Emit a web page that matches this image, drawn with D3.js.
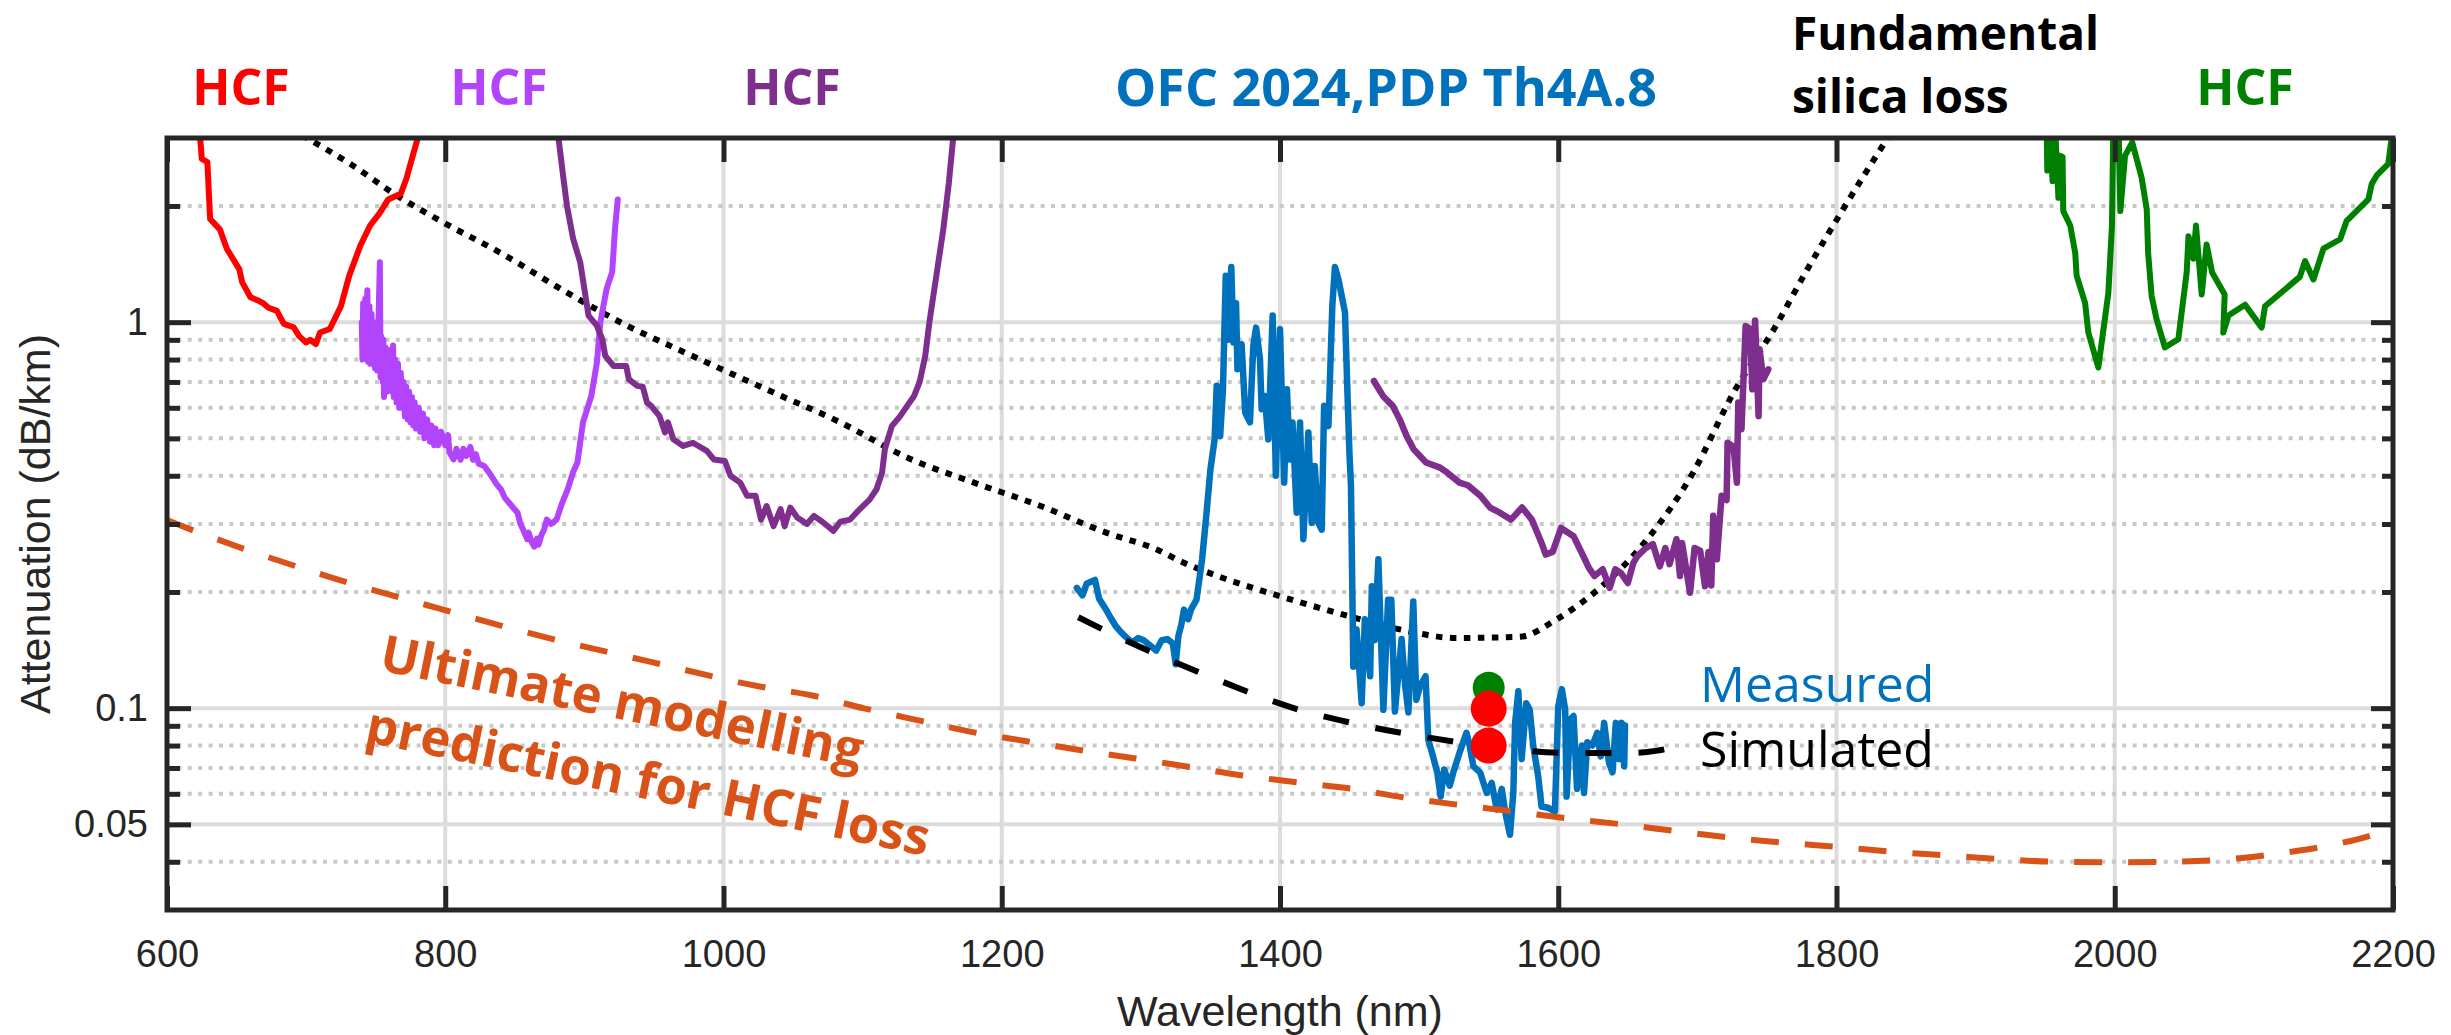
<!DOCTYPE html>
<html>
<head>
<meta charset="utf-8">
<script src="https://cdn.jsdelivr.net/npm/d3@7"></script>
<style>
  html, body { margin: 0; padding: 0; background: #fff; }
  #chart { width: 2451px; height: 1035px; }
</style>
</head>
<body>
<div id="chart"></div>
<script>
// ========== DATA (wavelength nm, attenuation dB/km) ==========

const xDomain = [600, 2200];
const yDomain = [0.03, 3];
const xTicks = [600, 800, 1000, 1200, 1400, 1600, 1800, 2000, 2200];
const xGridTicks = [800, 1000, 1200, 1400, 1600, 1800, 2000];
const yMajorTicks = [0.05, 0.1, 1];
const yMinorTicks = [0.04, 0.06, 0.07, 0.08, 0.09, 0.2, 0.3, 0.4, 0.5, 0.6, 0.7, 0.8, 0.9, 2];

const redHcf = [[622,3.3],[624,2.95],[625,2.65],[629,2.6],[631,1.85],[638,1.74],[643,1.55],[652,1.37],[654,1.27],[660,1.16],[665,1.14],[669,1.12],[673,1.09],[679,1.07],[684,0.99],[691,0.97],[695,0.92],[700,0.886],[703,0.9],[707,0.877],[710,0.94],[717,0.96],[725,1.10],[731,1.32],[739,1.58],[746,1.78],[753,1.92],[759,2.08],[768,2.15],[772,2.35],[780,2.98],[782,3.3]];

const lilacHcf = [[740,1.0],[740.5,0.8],[741,1.12],[742,0.82],[742.5,1.15],[743,0.85],[744,1.21],[744.5,0.79],[745.5,1.1],[746,0.78],[747,1.05],[748,0.8],[749,1.0],[749.5,0.76],[750,0.95],[751,0.75],[752,1.0],[753,1.43],[753.5,0.72],[754,0.92],[755,0.7],[755.5,0.9],[756,0.64],[757,0.86],[758,0.66],[758.5,0.85],[760,0.68],[761,0.84],[762,0.66],[762.5,0.87],[763,0.64],[764,0.8],[765,0.62],[766,0.78],[767,0.6],[768,0.74],[769,0.6],[770,0.7],[771,0.57],[772,0.68],[773,0.56],[774,0.66],[775,0.55],[776,0.64],[777,0.54],[778,0.62],[779,0.53],[781,0.6],[782,0.52],[784,0.58],[785,0.5],[787,0.56],[789,0.49],[790,0.54],[792,0.48],[793,0.53],[795,0.48],[797,0.52],[800,0.48],[802,0.51],[803,0.46],[806,0.441],[808,0.47],[811,0.44],[813,0.47],[815,0.45],[818,0.475],[820,0.44],[822,0.455],[824,0.43],[828,0.424],[831,0.41],[834,0.395],[837,0.38],[840,0.369],[843,0.35],[846,0.34],[849,0.33],[852,0.321],[854,0.3],[856,0.29],[859,0.274],[860,0.285],[862,0.27],[864,0.262],[866,0.275],[867,0.265],[869,0.28],[871,0.29],[873,0.308],[876,0.3],[880,0.308],[884,0.34],[888,0.369],[892,0.41],[895,0.433],[899,0.55],[905,0.644],[909,0.786],[911.5,1.0],[916,1.22],[920,1.35],[922,1.74],[924,2.08]];

const purpleHcf = [[880,3.3],[881.5,2.98],[885,2.35],[887.5,2.0],[892,1.64],[897,1.43],[903,1.04],[909,0.98],[913,0.9],[915,0.818],[921,0.77],[930,0.77],[932,0.711],[938,0.684],[942,0.68],[945,0.619],[948,0.607],[954,0.571],[958,0.518],[960,0.55],[964,0.497],[971,0.478],[978,0.487],[988,0.464],[993,0.441],[1001,0.437],[1005,0.40],[1012,0.384],[1017,0.355],[1023,0.355],[1027,0.308],[1031,0.334],[1036,0.296],[1041,0.328],[1044,0.296],[1048,0.331],[1053,0.312],[1060,0.30],[1065,0.315],[1071,0.304],[1079,0.288],[1084,0.304],[1091,0.308],[1098,0.328],[1105,0.347],[1110,0.369],[1114,0.408],[1116,0.469],[1121,0.538],[1127,0.571],[1132,0.607],[1137,0.644],[1141,0.70],[1145,0.818],[1148,1.0],[1153,1.32],[1158,1.74],[1162,2.3],[1165,2.98],[1167,3.3]];

const purpleHcf2 = [[1467.5,0.704],[1474,0.644],[1481,0.607],[1486,0.56],[1491,0.507],[1496,0.469],[1505,0.433],[1515,0.42],[1520,0.408],[1529,0.384],[1535,0.378],[1544,0.355],[1551,0.331],[1558,0.321],[1566,0.308],[1574,0.331],[1581,0.308],[1588,0.268],[1591,0.25],[1596,0.254],[1602,0.293],[1611,0.279],[1617,0.252],[1622,0.231],[1626,0.22],[1632,0.229],[1637,0.205],[1641,0.229],[1645,0.224],[1650,0.211],[1654,0.238],[1657,0.248],[1663,0.26],[1668,0.266],[1673,0.233],[1677,0.26],[1680,0.236],[1685,0.274],[1687.5,0.22],[1689,0.268],[1694.7,0.199],[1698,0.26],[1702,0.256],[1705.5,0.207],[1708,0.254],[1710,0.208],[1711.4,0.315],[1714,0.243],[1717.4,0.355],[1721,0.346],[1721.7,0.487],[1726,0.475],[1728.4,0.384],[1729.4,0.619],[1731.7,0.528],[1734.7,0.978],[1738,0.96],[1739.5,0.67],[1741.5,1.01],[1744,0.571],[1744.7,0.851],[1747.4,0.711],[1751,0.755]];

const greenHcf = [[1951,3.3],[1951.5,2.47],[1953.4,3.3],[1955.3,2.32],[1957,3.3],[1959.5,2.1],[1960.6,2.7],[1962.5,2.68],[1963,1.94],[1968,1.78],[1971.6,1.51],[1972.6,1.32],[1978.7,1.12],[1981,0.94],[1988.2,0.763],[1995.4,1.19],[1996.6,1.43],[1998,1.78],[1999,3.3],[2002.7,3.3],[2004,1.94],[2007.4,2.7],[2012.6,2.92],[2019.3,2.37],[2023,1.96],[2024,1.51],[2026.5,1.17],[2030,1.02],[2036,0.86],[2045.7,0.904],[2051.7,1.345],[2053,1.67],[2056.5,1.46],[2058.4,1.78],[2062.5,1.18],[2066,1.59],[2070,1.345],[2079,1.18],[2078,0.94],[2081.7,1.04],[2093.7,1.11],[2105.6,0.968],[2108,1.10],[2133,1.31],[2136.8,1.44],[2142.8,1.29],[2150,1.55],[2162,1.64],[2166.7,1.83],[2182.3,2.08],[2184.7,2.28],[2188.3,2.4],[2196.6,2.57],[2199,3.0],[2200,3.3]];

const measured = [[1254,0.205],[1258,0.196],[1261,0.21],[1267,0.215],[1270,0.192],[1275,0.18],[1278,0.172],[1282,0.163],[1286,0.157],[1290,0.152],[1294,0.148],[1298,0.152],[1302,0.15],[1306,0.146],[1311,0.141],[1315,0.15],[1319,0.151],[1323,0.147],[1325,0.13],[1327,0.154],[1329,0.164],[1331,0.18],[1334,0.17],[1336,0.18],[1340,0.191],[1344,0.243],[1347,0.315],[1350,0.416],[1353,0.497],[1354.5,0.684],[1357,0.507],[1359,0.67],[1361,1.32],[1362.6,0.9],[1365,1.39],[1366.5,0.886],[1368.4,1.12],[1369.4,0.755],[1372.4,0.877],[1375,0.583],[1378.4,0.55],[1380.8,0.868],[1382.8,0.968],[1385.6,0.802],[1386.8,0.595],[1389,0.644],[1391.6,0.497],[1394.7,1.04],[1397,0.40],[1400,0.959],[1403,0.384],[1405,0.67],[1407,0.441],[1409,0.55],[1412,0.321],[1414.4,0.55],[1416.8,0.274],[1420.4,0.518],[1422.8,0.302],[1425,0.424],[1427.5,0.302],[1430,0.29],[1431.7,0.607],[1434.8,0.538],[1437.6,1.10],[1439.5,1.39],[1442,1.29],[1446.7,1.06],[1448.4,0.67],[1450,0.45],[1451,0.377],[1452.7,0.128],[1455,0.16],[1458.7,0.103],[1461,0.17],[1464.8,0.121],[1466,0.207],[1468,0.15],[1470.7,0.243],[1474.3,0.099],[1477.7,0.191],[1480,0.191],[1482.6,0.098],[1487.4,0.151],[1490,0.114],[1492.3,0.0975],[1495.8,0.189],[1498,0.105],[1500.6,0.114],[1504.6,0.121],[1506.6,0.0829],[1510,0.075],[1513,0.0682],[1515.5,0.059],[1518,0.0694],[1522,0.063],[1524.6,0.0682],[1529,0.0766],[1534,0.0863],[1536,0.081],[1539,0.0707],[1543.8,0.0682],[1548.6,0.0603],[1552.2,0.064],[1555.8,0.0546],[1559.4,0.0618],[1561.8,0.054],[1565.3,0.047],[1567.7,0.0603],[1569,0.0916],[1571.3,0.1106],[1573.7,0.0738],[1577,0.103],[1579.5,0.099],[1582,0.08],[1585.6,0.0665],[1588,0.0556],[1592.8,0.0552],[1597.6,0.054],[1600,0.101],[1602.6,0.112],[1605,0.099],[1606,0.059],[1608.7,0.0936],[1611,0.0954],[1613.5,0.0618],[1617,0.08],[1618.5,0.0603],[1620.9,0.0816],[1624.5,0.08],[1628,0.0863],[1630.5,0.075],[1633,0.0916],[1636.5,0.0721],[1639,0.0682],[1641.4,0.0916],[1643.8,0.0738],[1645.5,0.0916],[1647.4,0.0707],[1648,0.0902]];

const simulated = [[1255,0.172],[1294,0.147],[1344,0.123],[1414,0.099],[1455,0.091],[1515,0.083],[1570,0.078],[1613,0.0765],[1650,0.0765],[1670,0.0775],[1690,0.0805]];

const silicaLoss = [[697,3.05],[734,2.54],[765,2.13],[799,1.81],[840,1.51],[888,1.19],[931,0.978],[967,0.851],[988,0.786],[1036,0.657],[1084,0.55],[1132,0.446],[1180,0.384],[1228,0.334],[1275,0.285],[1311,0.258],[1331,0.238],[1355,0.22],[1400,0.195],[1450,0.173],[1486,0.16],[1527,0.152],[1572,0.153],[1599,0.17],[1630,0.205],[1664,0.274],[1697,0.408],[1726,0.657],[1755,0.959],[1779,1.37],[1802,1.89],[1838,3.05]];

const ultimateLoss = [[600,0.307],[608,0.299],[720,0.217],[796,0.181],[871,0.153],[947,0.132],[1025,0.114],[1063,0.108],[1101,0.0999],[1142,0.0927],[1179,0.0867],[1218,0.0821],[1257,0.0778],[1295,0.0742],[1334,0.0705],[1374,0.0669],[1413,0.0642],[1452,0.0618],[1489,0.0587],[1528,0.0562],[1568,0.054],[1607,0.0518],[1646,0.050],[1685,0.048],[1724,0.0462],[1763,0.0448],[1802,0.0437],[1842,0.0424],[1881,0.0415],[1920,0.0406],[1959,0.040],[1999,0.0399],[2038,0.040],[2078,0.0405],[2117,0.042],[2156,0.0442],[2192,0.0478],[2200,0.049]];

const pointsGreen = [[1550,0.113]];
const pointsRed = [[1550,0.0997],[1550,0.080]];

// ========== CHART ==========

function drawLossChart(containerId) {
  const el = document.getElementById(containerId);
  if (!el || !window.d3) return;
  el.innerHTML = '';

  const W = 2451, H = 1035;
  const margin = { top: 138, right: 58, bottom: 125, left: 167 };
  const width = W - margin.left - margin.right;
  const height = H - margin.top - margin.bottom;
  const axisColor = '#262626';
  const tickFont = '"Liberation Sans", Arial, sans-serif';
  const noteFont = '"Open Sans", "Noto Sans", sans-serif';

  const svg = d3.select(`#${containerId}`).append('svg')
    .attr('width', W).attr('height', H)
    .style('background', '#fff');
  svg.append('defs').append('clipPath').attr('id', 'plot-clip')
    .append('rect').attr('width', width).attr('height', height);

  const g = svg.append('g').attr('transform', `translate(${margin.left},${margin.top})`);

  const x = d3.scaleLinear().domain(xDomain).range([0, width]);
  const y = d3.scaleLog().domain(yDomain).range([height, 0]);

  // Grid
  g.append('g').selectAll('line').data(xGridTicks).enter().append('line')
    .attr('x1', d => x(d)).attr('x2', d => x(d)).attr('y1', 0).attr('y2', height)
    .attr('stroke', '#dcdcdc').attr('stroke-width', 4);
  g.append('g').selectAll('line').data(yMajorTicks).enter().append('line')
    .attr('x1', 0).attr('x2', width).attr('y1', d => y(d)).attr('y2', d => y(d))
    .attr('stroke', '#dcdcdc').attr('stroke-width', 4);
  g.append('g').selectAll('line').data(yMinorTicks).enter().append('line')
    .attr('x1', 0).attr('x2', width).attr('y1', d => y(d)).attr('y2', d => y(d))
    .attr('stroke', '#c8c8c8').attr('stroke-width', 4).attr('stroke-dasharray', '4,6.4');

  const line = d3.line().x(d => x(d[0])).y(d => y(d[1]));
  const smooth = d3.line().x(d => x(d[0])).y(d => y(d[1])).curve(d3.curveMonotoneX);
  const plot = g.append('g').attr('clip-path', 'url(#plot-clip)');

  const addLine = (data, color, w, gen, dash) => {
    const p = plot.append('path').datum(data)
      .attr('fill', 'none').attr('stroke', color).attr('stroke-width', w)
      .attr('stroke-linejoin', 'round').attr('d', gen || line);
    if (dash) p.attr('stroke-dasharray', dash).attr('stroke-linecap', 'butt');
    else p.attr('stroke-linecap', 'round');
    return p;
  };

  // Series
  addLine(silicaLoss, '#000', 6, smooth, '6.5,7.5');
  addLine(redHcf, '#FF0000', 6);
  addLine(lilacHcf, '#B245FC', 6);
  addLine(purpleHcf, '#7E2F8E', 6);
  addLine(purpleHcf2, '#7E2F8E', 6.5);
  addLine(measured, '#0072BD', 6.5);
  addLine(ultimateLoss, '#D95319', 6, smooth, '28,26');
  addLine(simulated, '#000', 6, smooth, '26,27');
  addLine(greenHcf, '#008000', 6);

  // Dots
  plot.selectAll('.dot-green').data(pointsGreen).enter().append('circle')
    .attr('cx', d => x(d[0])).attr('cy', d => y(d[1])).attr('r', 16).attr('fill', '#008000');
  plot.selectAll('.dot-red').data(pointsRed).enter().append('circle')
    .attr('cx', d => x(d[0])).attr('cy', d => y(d[1])).attr('r', 18).attr('fill', '#FF0000');

  // Axes (ticks point inward, MATLAB style)
  const styleAxis = sel => {
    sel.select('.domain').remove();
    sel.selectAll('.tick line').attr('stroke', axisColor).attr('stroke-width', 5);
    sel.selectAll('text').style('font-family', tickFont).style('font-size', '38px').style('fill', axisColor);
  };
  g.append('g').attr('transform', `translate(0,${height})`)
    .call(d3.axisBottom(x).tickValues(xTicks).tickSize(-24).tickPadding(30).tickFormat(d3.format('d')))
    .call(styleAxis);
  g.append('g')
    .call(d3.axisTop(x).tickValues(xTicks).tickSize(-24).tickFormat(''))
    .call(styleAxis);
  g.append('g')
    .call(d3.axisLeft(y).tickValues(yMajorTicks).tickSize(-24).tickPadding(19).tickFormat(d => String(d)))
    .call(styleAxis);
  g.append('g')
    .call(d3.axisLeft(y).tickValues(yMinorTicks).tickSize(-13).tickFormat(''))
    .call(styleAxis);
  g.append('g').attr('transform', `translate(${width},0)`)
    .call(d3.axisRight(y).tickValues(yMajorTicks).tickSize(-22).tickFormat(''))
    .call(styleAxis);
  g.append('g').attr('transform', `translate(${width},0)`)
    .call(d3.axisRight(y).tickValues(yMinorTicks).tickSize(-11).tickFormat(''))
    .call(styleAxis);

  g.append('rect').attr('width', width).attr('height', height)
    .attr('fill', 'none').attr('stroke', axisColor).attr('stroke-width', 5);

  // Axis labels
  svg.append('text').attr('x', margin.left + width / 2).attr('y', 1026)
    .attr('text-anchor', 'middle').text('Wavelength (nm)')
    .style('font-family', tickFont).style('font-size', '43px').style('fill', axisColor);
  svg.append('text').attr('transform', `translate(50,${margin.top + height / 2}) rotate(-90)`)
    .attr('text-anchor', 'middle').text('Attenuation (dB/km)')
    .style('font-family', tickFont).style('font-size', '43px').style('fill', axisColor);

  // Annotations
  const note = (txt, px, py, color, anchor, size, weight) =>
    svg.append('text').attr('x', px).attr('y', py).attr('text-anchor', anchor).text(txt)
      .style('font-family', noteFont).style('font-size', size + 'px')
      .style('font-weight', weight).style('fill', color);

  note('HCF', 241, 105, '#FF0000', 'middle', 50, 700);
  note('HCF', 499, 105, '#B245FC', 'middle', 50, 700);
  note('HCF', 792, 105, '#7E2F8E', 'middle', 50, 700);
  note('OFC 2024,PDP Th4A.8', 1386, 106, '#0072BD', 'middle', 52, 700);
  note('HCF', 2245, 105, '#008000', 'middle', 50, 700);
  note('Measured', 1700, 702, '#0072BD', 'start', 50, 400);
  note('Simulated', 1700, 767, '#000', 'start', 50, 400);
  note('Fundamental', 1792, 50, '#000', 'start', 46, 700);
  note('silica loss', 1792, 113, '#000', 'start', 46, 700);

  const rot = svg.append('g').attr('transform', 'translate(378,670) rotate(11.5)');
  const ult = rot.append('text')
    .style('font-family', noteFont).style('font-size', '51px')
    .style('font-weight', 700).style('fill', '#D95319');
  ['Ultimate modelling', 'prediction for HCF loss'].forEach((t, i) => {
    ult.append('tspan').attr('x', 0).attr('y', i * 73).text(t);
  });
}

drawLossChart('chart');
</script>
</body>
</html>
